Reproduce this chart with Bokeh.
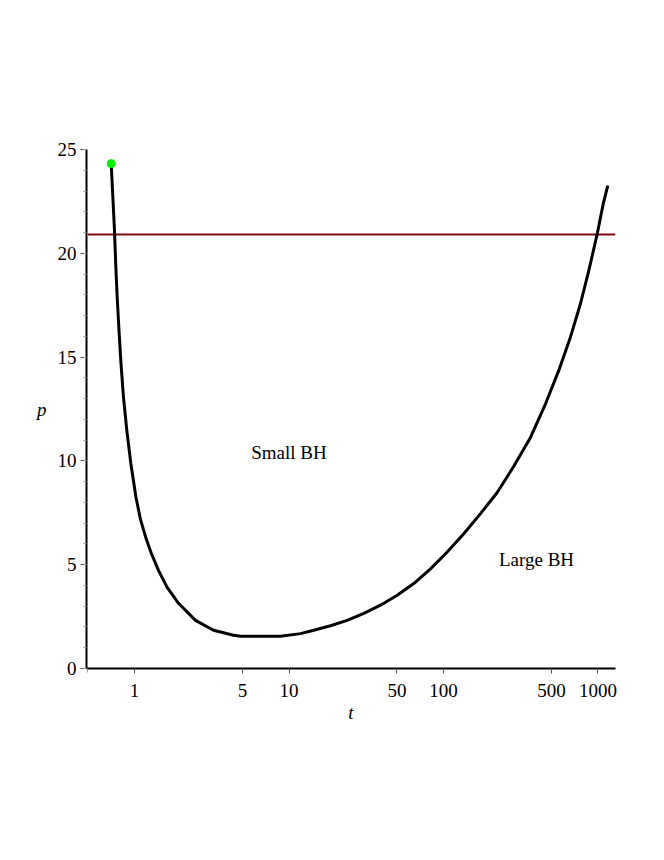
from bokeh.plotting import figure
from bokeh.models import FixedTicker, Range1d
from bokeh.embed import file_html
from bokeh.resources import INLINE
from bokeh.core.properties import value

# ---- data ----
t_curve = [0.7066, 0.7422, 0.7556, 0.7727, 0.7938, 0.8177, 0.8487, 0.8917, 0.9465,
           1.0226, 1.0933, 1.187, 1.2845, 1.4297, 1.6232, 1.9271, 2.4823, 3.2454,
           4.373, 4.855, 8.81, 11.87, 14.47, 18.56, 23.8, 30.5, 39.1, 50.15, 64.2,
           82.4, 105.7, 135.3, 173.6, 222.7, 285, 365.6, 457.5, 557.6, 663, 770,
           872, 988, 1081, 1157]
p_curve = [24.32, 21.09, 19.50, 17.87, 16.28, 14.69, 13.06, 11.47, 9.88,
           8.24, 7.18, 6.27, 5.55, 4.73, 3.92, 3.14, 2.32, 1.84,
           1.60, 1.55, 1.55, 1.68, 1.84, 2.06, 2.32, 2.66, 3.05, 3.53, 4.09,
           4.80, 5.61, 6.49, 7.46, 8.48, 9.74, 11.13, 12.75, 14.36, 15.96, 17.57,
           19.17, 20.93, 22.38, 23.26]

start_t = [0.7066]
start_p = [24.32]

level_t = [0.5, 1300]
level_p = [20.91, 20.91]

region_t = [10, 400]
region_p = [10.40, 5.25]
region_labels = ["Small BH", "Large BH"]

x_ticks = [1, 5, 10, 50, 100, 500, 1000]
x_tick_labels = ["1", "5", "10", "50", "100", "500", "1000"]
x_minor = [0.5]
y_ticks = [0, 5, 10, 15, 20, 25]
y_minor = list(range(0, 26))

FONT = "Liberation Serif"
FS = "19px"

p = figure(width=648, height=848, x_axis_type="log",
           x_range=Range1d(0.489, 1298), y_range=Range1d(0, 25),
           output_backend="svg", toolbar_location=None,
           min_border_left=86, min_border_right=33,
           min_border_top=149, min_border_bottom=180)

p.xgrid.visible = False
p.ygrid.visible = False
p.outline_line_color = None
p.background_fill_color = "white"
p.border_fill_color = "white"

p.line(level_t, level_p, line_color="#800a10", line_width=2)
p.line(t_curve, p_curve, line_color="black", line_width=3, line_join="round")
p.scatter(start_t, start_p, size=8, fill_color="#00ee00", line_color="#00ee00")

p.text(x=region_t, y=region_p, text=region_labels, text_font=value(FONT),
       text_font_size=FS, text_align="center", text_baseline="alphabetic",
       text_color="black")

# axes
p.xaxis.ticker = FixedTicker(ticks=x_ticks, minor_ticks=x_minor)
p.xaxis.major_label_overrides = {t: l for t, l in zip(x_ticks, x_tick_labels)}
p.yaxis.ticker = FixedTicker(ticks=y_ticks, minor_ticks=y_minor)

for ax in (p.xaxis, p.yaxis):
    ax.axis_line_color = "black"
    ax.axis_line_width = 2
    ax.major_tick_line_color = "#555555"
    ax.minor_tick_line_color = "#999999"
    ax.major_tick_in = 0
    ax.minor_tick_in = 0
    ax.major_label_text_font = FONT
    ax.major_label_text_font_size = FS
    ax.major_label_text_color = "black"
    ax.axis_label_text_font = FONT
    ax.axis_label_text_font_size = FS
    ax.axis_label_text_font_style = "italic"
    ax.axis_label_text_color = "black"

p.xaxis.major_tick_out = 5
p.xaxis.minor_tick_out = 4
p.xaxis.major_label_standoff = 10
p.xaxis.axis_label = "t"
p.xaxis.axis_label_standoff = 2

p.yaxis.major_tick_out = 6
p.yaxis.minor_tick_out = 3
p.yaxis.major_label_standoff = 4
p.yaxis.axis_label = "p"
p.yaxis.axis_label_orientation = "horizontal"
p.yaxis.axis_label_standoff = 8

open("out.html", "w").write(file_html(p, INLINE))
